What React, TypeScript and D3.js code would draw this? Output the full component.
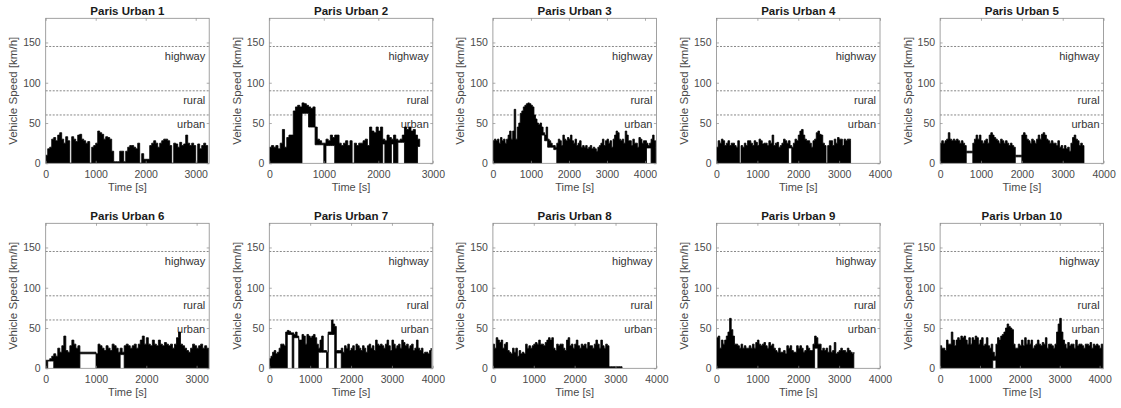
import React, { useEffect, useRef } from 'react';
import * as d3 from 'd3';

// The traces are too dense to read second by second, so every 40 s bin keeps
// the highest speed reached in it; the floor is 0 (stops) unless a cruise
// segment below says otherwise.
const SAMPLE_STEP = 40;

const panelTitles = [
  'Paris Urban 1', 'Paris Urban 2', 'Paris Urban 3', 'Paris Urban 4', 'Paris Urban 5',
  'Paris Urban 6', 'Paris Urban 7', 'Paris Urban 8', 'Paris Urban 9', 'Paris Urban 10',
];

const timeAxisMax = [3270, 3000, 4300, 4000, 4000, 3250, 4000, 4000, 4000, 4100];
const timeTicks3k = [0, 1000, 2000, 3000];
const timeTicks4k = [0, 1000, 2000, 3000, 4000];
const speedTicks = [0, 50, 100, 150];
const speedAxisMax = 180;

const zoneLimits = [145, 90, 60];
const zoneNames = ['highway', 'rural', 'urban'];

const peakUrban1 = [
  10, 18, 20, 30, 32, 28, 35, 38, 30, 25,
  33, 28, 0, 33, 30, 27, 35, 36, 30, 28,
  25, 27, 0, 20, 22, 25, 40, 38, 36, 30,
  33, 32, 30, 15, 2, 2, 2, 15, 15, 2,
  15, 20, 22, 22, 20, 18, 25, 0, 12, 5,
  5, 5, 22, 25, 28, 25, 20, 25, 28, 30,
  30, 28, 22, 0, 25, 24, 20, 26, 22, 24,
  35, 25, 22, 25, 22, 0, 24, 18, 22, 25, 22, 22,
];

const peakUrban2 = [
  20, 22, 20, 22, 18, 25, 42, 20, 32, 35,
  35, 65, 70, 72, 70, 75, 74, 72, 70, 68,
  70, 45, 30, 28, 25, 25, 30, 28, 35, 32,
  35, 35, 25, 22, 25, 28, 22, 28, 0, 25,
  22, 25, 25, 28, 30, 22, 45, 40, 38, 45,
  40, 45, 30, 28, 35, 32, 30, 35, 30, 28,
  30, 35, 45, 42, 45, 40, 42, 35, 30, 25,
];

const peakUrban3 = [
  28, 30, 28, 30, 25, 32, 28, 30, 25, 30,
  35, 40, 30, 40, 67, 30, 45, 50, 62, 65,
  70, 72, 74, 75, 74, 72, 70, 60, 55, 50,
  48, 50, 45, 38, 35, 45, 30, 28, 25, 22,
  22, 20, 25, 30, 28, 22, 35, 30, 28, 32,
  30, 35, 28, 25, 30, 22, 25, 28, 20, 22,
  20, 22, 18, 20, 22, 18, 20, 18, 15, 20,
  22, 25, 30, 22, 28, 30, 25, 28, 20, 30,
  35, 40, 38, 30, 28, 30, 25, 40, 35, 28,
  28, 22, 30, 25, 25, 20, 32, 30, 25, 28,
  28, 25, 22, 25, 30, 35, 28, 20,
];

const peakUrban4 = [
  20, 28, 25, 30, 28, 22, 25, 28, 22, 25,
  25, 22, 20, 28, 0, 22, 20, 25, 22, 28,
  28, 25, 22, 28, 26, 22, 30, 28, 24, 25,
  25, 22, 28, 25, 35, 22, 25, 26, 20, 22,
  25, 30, 28, 25, 28, 22, 20, 25, 30, 28,
  35, 40, 42, 35, 30, 28, 28, 25, 20, 28,
  30, 38, 40, 36, 35, 25, 22, 0, 22, 28,
  28, 22, 30, 25, 32, 30, 30, 22, 30, 28, 30, 30, 28,
];

const peakUrban5 = [
  25, 28, 25, 28, 30, 38, 30, 28, 30, 28,
  30, 28, 25, 28, 25, 22, 15, 15, 15, 15,
  25, 30, 35, 30, 35, 28, 25, 28, 30, 25,
  35, 38, 35, 32, 30, 28, 25, 30, 28, 25,
  28, 25, 22, 25, 22, 20, 10, 10, 10, 10,
  35, 38, 35, 30, 28, 25, 30, 28, 25, 30,
  35, 30, 36, 38, 35, 30, 28, 25, 28, 25,
  25, 22, 28, 20, 22, 18, 22, 18, 20, 15,
  25, 32, 35, 30, 28, 22, 25, 22, 22,
];

const peakUrban6 = [
  10, 10, 12, 15, 18, 15, 25, 20, 28, 40,
  22, 20, 28, 35, 30, 25, 28, 20, 20, 20,
  20, 20, 20, 20, 20, 18, 30, 28, 25, 22,
  28, 25, 22, 30, 28, 25, 20, 25, 20, 28,
  30, 28, 25, 28, 30, 25, 30, 35, 40, 30,
  38, 30, 28, 35, 30, 28, 35, 30, 28, 32,
  30, 28, 30, 25, 30, 38, 45, 30, 28, 25,
  22, 20, 25, 30, 28, 25, 28, 30, 25, 28, 25, 25,
];

const peakUrban7 = [
  12, 15, 20, 22, 18, 20, 25, 30, 30, 28,
  45, 47, 46, 44, 44, 42, 45, 40, 35, 35,
  42, 40, 30, 42, 40, 38, 40, 42, 38, 30,
  25, 35, 40, 22, 22, 20, 45, 45, 60, 55,
  52, 22, 22, 22, 25, 20, 28, 25, 30, 22,
  25, 28, 22, 30, 28, 25, 22, 28, 25, 20,
  28, 30, 25, 28, 22, 35, 30, 28, 30, 28,
  25, 30, 35, 28, 22, 35, 30, 25, 28, 30,
  25, 35, 32, 28, 30, 25, 28, 30, 22, 25,
  35, 25, 22, 25, 18, 20, 20, 18, 22, 25,
];

const peakUrban8 = [
  30, 25, 38, 35, 32, 35, 25, 30, 32, 22,
  20, 18, 25, 20, 25, 15, 22, 18, 20, 18,
  30, 25, 28, 25, 28, 30, 32, 30, 35, 30,
  30, 28, 32, 35, 38, 35, 38, 25, 22, 30,
  28, 30, 30, 25, 22, 35, 38, 28, 30, 25,
  30, 35, 28, 25, 30, 28, 30, 25, 32, 28,
  28, 25, 30, 35, 30, 25, 35, 28, 25, 30,
  28, 2, 2, 2, 2, 2, 2, 2, 2, 2,
];

const peakUrban9 = [
  38, 40, 25, 35, 30, 35, 40, 45, 62, 48,
  40, 30, 30, 28, 25, 30, 25, 28, 25, 25,
  28, 25, 30, 25, 32, 35, 30, 28, 30, 32,
  28, 25, 32, 28, 30, 25, 22, 20, 25, 20,
  20, 22, 18, 28, 25, 28, 22, 20, 20, 28,
  25, 28, 25, 20, 22, 28, 25, 22, 22, 30,
  40, 38, 30, 30, 22, 25, 22, 25, 20, 28,
  20, 22, 32, 18, 20, 22, 25, 22, 22, 20,
  25, 22, 20, 18, 20,
];

const peakUrban10 = [
  28, 25, 25, 22, 35, 30, 30, 45, 35, 28,
  35, 38, 35, 40, 38, 40, 35, 30, 38, 30,
  38, 35, 40, 38, 30, 35, 38, 28, 30, 38,
  28, 25, 30, 20, 15, 30, 38, 35, 40, 42,
  45, 50, 55, 52, 50, 48, 30, 25, 25, 30,
  28, 35, 28, 38, 30, 35, 30, 35, 25, 28,
  30, 35, 30, 28, 32, 30, 38, 25, 30, 30,
  28, 25, 30, 45, 55, 62, 45, 35, 30, 25,
  32, 28, 30, 30, 25, 35, 28, 30, 30, 28,
  25, 30, 30, 28, 32, 25, 30, 28, 30, 28,
  25, 30, 28,
];

// cruise segments [from s, to s, lowest speed km/h] where the trace does not drop to 0
const cruiseUrban1: number[][] = [];
const cruiseUrban2 = [[600, 720, 62], [720, 840, 45], [840, 1000, 23], [1040, 1200, 22], [2080, 2120, 24], [2240, 2280, 24], [2360, 2480, 26], [2720, 2800, 21]];
const cruiseUrban3 = [[1280, 1360, 35], [1360, 1440, 28], [1440, 1600, 20], [1600, 1680, 17], [4040, 4160, 19]];
const cruiseUrban4 = [[1760, 1840, 19]];
const cruiseUrban5 = [[640, 800, 13], [1840, 2000, 8]];
const cruiseUrban6 = [[40, 160, 9], [680, 1000, 18], [1480, 1560, 17]];
const cruiseUrban7 = [[440, 560, 42], [600, 720, 38], [1200, 1400, 20], [1440, 1600, 42], [1640, 1760, 19]];
const cruiseUrban8: number[][] = [];
const cruiseUrban9 = [[2400, 2480, 25]];
const cruiseUrban10 = [[1320, 1400, 10]];

const peakTraces = [
  peakUrban1, peakUrban2, peakUrban3, peakUrban4, peakUrban5,
  peakUrban6, peakUrban7, peakUrban8, peakUrban9, peakUrban10,
];
const cruiseSegments = [
  cruiseUrban1, cruiseUrban2, cruiseUrban3, cruiseUrban4, cruiseUrban5,
  cruiseUrban6, cruiseUrban7, cruiseUrban8, cruiseUrban9, cruiseUrban10,
];

const FONT = '"Liberation Sans", Arial, Helvetica, sans-serif';

function App() {
  const svgRef = useRef<SVGSVGElement>(null);

  useEffect(() => {
    const svg = d3.select(svgRef.current);
    svg.selectAll('*').remove();

    const firstLeft = 45.7;
    const colStep = 223.6;
    const rowTops = [18.3, 223.3];
    const plotW = 163.5;
    const plotH = 145;

    panelTitles.forEach((title, i) => {
      const col = i % 5;
      const row = Math.floor(i / 5);
      const g = svg
        .append('g')
        .attr('transform', `translate(${firstLeft + col * colStep},${rowTops[row]})`);

      const x = d3.scaleLinear().domain([0, timeAxisMax[i]]).range([0, plotW]);
      const y = d3.scaleLinear().domain([0, speedAxisMax]).range([plotH, 0]);
      const ticks = timeAxisMax[i] < 3500 ? timeTicks3k : timeTicks4k;

      g.append('clipPath')
        .attr('id', `clip-${i}`)
        .append('rect')
        .attr('width', plotW)
        .attr('height', plotH);

      // speed zone limits
      zoneLimits.forEach((lim, k) => {
        g.append('line')
          .attr('x1', 0)
          .attr('x2', plotW)
          .attr('y1', y(lim))
          .attr('y2', y(lim))
          .attr('stroke', '#555')
          .attr('stroke-width', 0.7)
          .attr('stroke-dasharray', '2,1.5');
        g.append('text')
          .attr('x', plotW - 4)
          .attr('y', y(lim) + 13.5)
          .attr('text-anchor', 'end')
          .attr('font-family', FONT)
          .attr('font-size', 11)
          .attr('fill', '#333')
          .text(zoneNames[k]);
      });

      const floorAt = (t: number) => {
        const seg = cruiseSegments[i].find((s) => t >= s[0] && t < s[1]);
        return seg ? seg[2] : 0;
      };

      const band = d3
        .area<number>()
        .x((_, j) => x(j * SAMPLE_STEP))
        .y0((_, j) => y(floorAt(j * SAMPLE_STEP)))
        .y1((d) => y(d))
        .curve(d3.curveStepAfter);

      g.append('path')
        .datum(peakTraces[i])
        .attr('clip-path', `url(#clip-${i})`)
        .attr('d', band)
        .attr('fill', '#000')
        .attr('stroke', '#000')
        .attr('stroke-width', 0.8)
        .attr('stroke-linejoin', 'miter');

      g.append('rect')
        .attr('width', plotW)
        .attr('height', plotH)
        .attr('fill', 'none')
        .attr('stroke', '#8a8a8a')
        .attr('stroke-width', 0.8);

      // axes, ticks pointing inwards like the original
      const fmt = d3.format('d');
      const xAxis = g
        .append('g')
        .attr('transform', `translate(0,${plotH})`)
        .call(d3.axisBottom(x).tickValues(ticks).tickFormat(fmt).tickSizeInner(-2.5).tickSizeOuter(0).tickPadding(7));
      g.append('g').call(d3.axisTop(x).tickValues(ticks).tickSizeInner(-2.5).tickSizeOuter(0).tickFormat(() => ''));
      const yAxis = g
        .append('g')
        .call(d3.axisLeft(y).tickValues(speedTicks).tickFormat(fmt).tickSizeInner(-2.5).tickSizeOuter(0).tickPadding(5));
      g.append('g')
        .attr('transform', `translate(${plotW},0)`)
        .call(d3.axisRight(y).tickValues(speedTicks).tickSizeInner(-2.5).tickSizeOuter(0).tickFormat(() => ''));

      g.selectAll('.domain').remove();
      g.selectAll('.tick line').attr('stroke', '#8a8a8a').attr('stroke-width', 0.7);
      [xAxis, yAxis].forEach((ax) =>
        ax
          .selectAll('text')
          .attr('font-family', FONT)
          .attr('font-size', 10.5)
          .attr('fill', '#4a4a4a')
      );

      g.append('text')
        .attr('x', plotW / 2)
        .attr('y', -3.5)
        .attr('text-anchor', 'middle')
        .attr('font-family', FONT)
        .attr('font-size', 11.5)
        .attr('font-weight', 'bold')
        .attr('fill', '#1a1a1a')
        .text(title);

      g.append('text')
        .attr('x', plotW / 2)
        .attr('y', plotH + 27.5)
        .attr('text-anchor', 'middle')
        .attr('font-family', FONT)
        .attr('font-size', 11)
        .attr('fill', '#4a4a4a')
        .text('Time [s]');

      g.append('text')
        .attr('transform', `translate(-28.5,${plotH / 2}) rotate(-90)`)
        .attr('text-anchor', 'middle')
        .attr('font-family', FONT)
        .attr('font-size', 11.5)
        .attr('fill', '#4a4a4a')
        .text('Vehicle Speed [km/h]');
    });
  }, []);

  return (
    <svg
      ref={svgRef}
      width={1121}
      height={408}
      style={{ position: 'absolute', left: 0, top: 0, background: '#fff' }}
    />
  );
}

export default App;
